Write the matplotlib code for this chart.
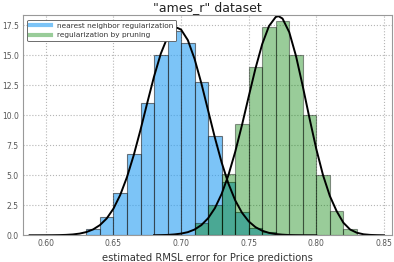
import matplotlib
matplotlib.use('Agg')
import matplotlib.pyplot as plt
from matplotlib.lines import Line2D

# histogram bins (left edges) and density heights
nn_edges = [0.63, 0.64, 0.65, 0.66, 0.67, 0.68, 0.69, 0.70, 0.71, 0.72,
            0.73, 0.74, 0.75, 0.76]
nn_heights = [0.5, 1.5, 3.5, 6.75, 11.0, 15.0, 17.0, 16.0, 12.75, 8.3,
              4.4, 1.95, 0.6, 0.25]

pr_edges = [0.71, 0.72, 0.73, 0.74, 0.75, 0.76, 0.77, 0.78, 0.79, 0.80,
            0.81, 0.82]
pr_heights = [1.0, 2.5, 5.1, 9.25, 14.0, 17.4, 17.9, 15.0, 10.0, 5.0,
              2.0, 0.5]

# density curves
nn_kde_x = [0.588, 0.595, 0.600, 0.605, 0.610, 0.615, 0.620, 0.625, 0.630,
            0.635, 0.640, 0.645, 0.650, 0.655, 0.660, 0.665, 0.670, 0.675,
            0.680, 0.685, 0.690, 0.695, 0.697, 0.700, 0.705, 0.710, 0.715,
            0.720, 0.725, 0.730, 0.735, 0.740, 0.745, 0.750, 0.755, 0.760,
            0.765, 0.770, 0.775, 0.780, 0.785, 0.790, 0.795, 0.800]
nn_kde_y = [0.0, 0.001, 0.003, 0.007, 0.015, 0.034, 0.07, 0.14, 0.27,
            0.49, 0.85, 1.40, 2.22, 3.36, 4.85, 6.68, 8.79, 11.04,
            13.23, 15.14, 16.53, 17.24, 17.3, 17.15, 16.27, 14.70, 12.67,
            10.40, 8.14, 6.07, 4.31, 2.92, 1.89, 1.16, 0.68, 0.38,
            0.20, 0.10, 0.05, 0.02, 0.01, 0.004, 0.002, 0.0]

pr_kde_x = [0.680, 0.685, 0.690, 0.695, 0.700, 0.705, 0.710, 0.715, 0.720,
            0.725, 0.730, 0.735, 0.740, 0.745, 0.750, 0.755, 0.760, 0.765,
            0.770, 0.772, 0.775, 0.780, 0.785, 0.790, 0.795, 0.800, 0.805,
            0.810, 0.815, 0.820, 0.825, 0.830, 0.835, 0.840, 0.845, 0.850]
pr_kde_y = [0.006, 0.014, 0.03, 0.07, 0.14, 0.26, 0.48, 0.85, 1.42,
            2.26, 3.45, 5.01, 6.94, 9.17, 11.56, 13.90, 15.94, 17.44,
            18.20, 18.27, 18.07, 16.93, 14.94, 12.42, 9.74, 7.19, 5.00,
            3.28, 2.02, 1.05, 0.48, 0.21, 0.08, 0.03, 0.01, 0.0]

labels = ['nearest neighbor regularization', 'regularization by pruning']
x_ticks = [0.60, 0.65, 0.70, 0.75, 0.80, 0.85]
y_ticks = [0.0, 2.5, 5.0, 7.5, 10.0, 12.5, 15.0, 17.5]

blue = (37 / 255, 157 / 255, 243 / 255)
green = (0, 0.5, 0)

fig = plt.figure(figsize=(3.94, 2.62), dpi=100)
ax = fig.add_axes([0.058, 0.102, 0.937, 0.841])

ax.grid(True, linestyle=':', color='#b5b5b5', linewidth=0.8)
ax.set_axisbelow(True)

ax.bar(nn_edges, nn_heights, width=0.01, align='edge', color=blue,
       alpha=0.6, edgecolor='#222222', linewidth=0.8)
ax.bar(pr_edges, pr_heights, width=0.01, align='edge', color=green,
       alpha=0.4, edgecolor='black', linewidth=0.8)
ax.plot(nn_kde_x, nn_kde_y, color='black', linewidth=1.4)
ax.plot(pr_kde_x, pr_kde_y, color='black', linewidth=1.4)

ax.set_xlim(0.583, 0.856)
ax.set_ylim(0, 18.37)
ax.set_xticks(x_ticks)
ax.set_xticklabels([f'{v:.2f}' for v in x_ticks])
ax.set_yticks(y_ticks)
ax.set_yticklabels([f'{v:.1f}' for v in y_ticks])
ax.tick_params(length=0, labelsize=5.5, labelcolor='#555555', pad=3)
for s in ax.spines.values():
    s.set_color('#999999')
    s.set_linewidth(0.8)

ax.set_xlabel('estimated RMSL error for Price predictions', fontsize=7.2,
              color='#333333', labelpad=3)
ax.set_title('"ames_r" dataset', fontsize=9, color='#222222', pad=3)

handles = [Line2D([], [], color=blue, alpha=0.6, linewidth=3),
           Line2D([], [], color=green, alpha=0.4, linewidth=3)]
leg = ax.legend(handles, labels, loc='upper left', fontsize=5.3,
                bbox_to_anchor=(0.008, 0.985), borderaxespad=0.2,
                handlelength=2.8, labelspacing=0.45, fancybox=True,
                framealpha=1.0, edgecolor='#555555')
leg.get_frame().set_linewidth(0.6)
for t in leg.get_texts():
    t.set_color('#333333')

fig.savefig('out.png', dpi=100)
